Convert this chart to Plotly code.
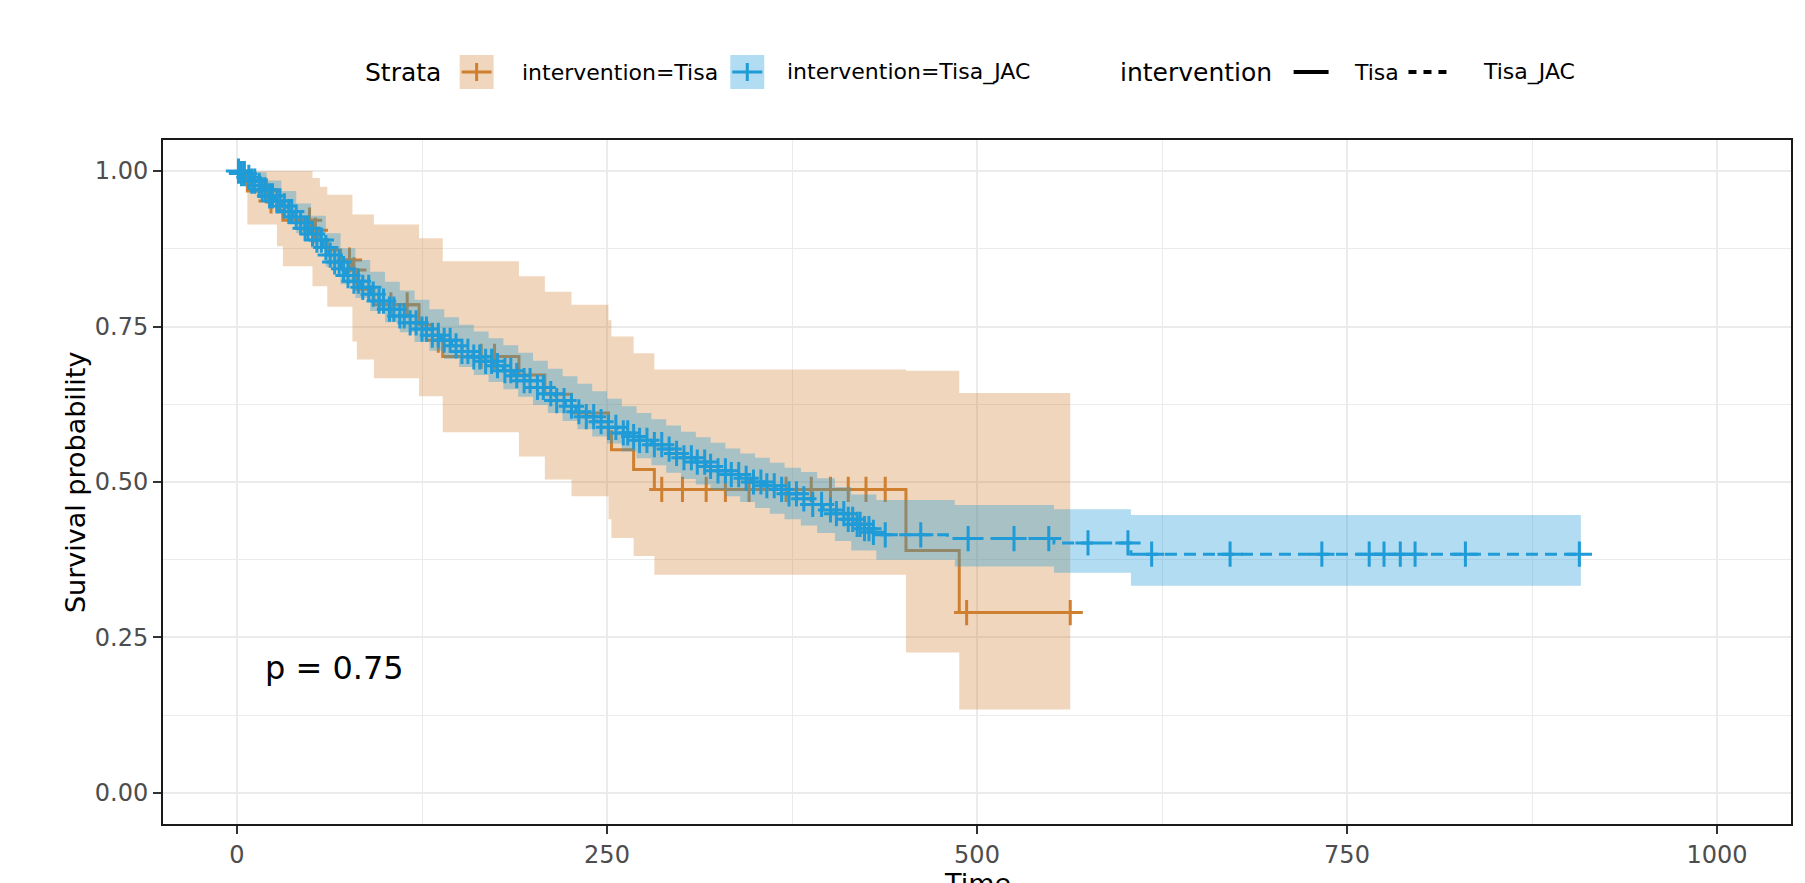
import bisect
import plotly.graph_objects as go

# ---------------- data ----------------
TISA_TIME = [0, 7, 22, 27, 31, 51, 56, 61, 70, 78, 81, 92.5, 123, 132, 139,
             190.5, 208, 226, 251, 253, 268, 282, 452, 488]
TISA_SURV = [1.0, 0.968, 0.952, 0.937, 0.921, 0.905, 0.889, 0.873, 0.857, 0.841,
             0.810, 0.785, 0.753, 0.728, 0.702, 0.672, 0.641, 0.611, 0.581, 0.552,
             0.520, 0.488, 0.390, 0.290]
TISA_END = 563

TISA_BAND_TIME = [0, 7, 27, 31, 51, 56, 61, 78, 81, 92.5, 123, 139, 190.5, 208,
                  226, 251, 253, 268, 282, 452, 488]
TISA_UPPER = [1, 1, 1, 1, 0.989, 0.975, 0.962, 0.930, 0.930, 0.914, 0.892, 0.855,
              0.831, 0.806, 0.785, 0.760, 0.734, 0.707, 0.681, 0.679, 0.643]
TISA_LOWER = [1, 0.914, 0.879, 0.847, 0.815, 0.815, 0.782, 0.726, 0.697, 0.667,
              0.638, 0.580, 0.541, 0.504, 0.477, 0.440, 0.410, 0.381, 0.351, 0.226,
              0.134]
TISA_CENSOR = [20, 23, 49, 53, 76, 79, 104, 115, 136, 165, 174, 287, 301, 317, 330,
               346, 371, 388, 401, 413, 425, 438, 493, 563]

JAC_TIME = [0, 3, 6, 9, 13, 17, 22, 26, 30, 34, 38, 42, 46, 50, 54, 58, 62, 66, 70,
            74, 78, 84, 90, 96, 103, 110, 117, 124, 131, 138, 145, 152, 159, 166,
            173, 180, 187, 194, 201, 208, 215, 222, 229, 236, 243, 250, 257, 265,
            272, 280, 288, 295, 302, 310, 317, 325, 332, 340, 348, 356, 364, 372,
            380, 388, 396, 405, 413, 418, 423, 428, 433, 480, 552, 604]
JAC_SURV = [1.000, 0.996, 0.990, 0.984, 0.977, 0.970, 0.960, 0.952, 0.944, 0.935,
            0.926, 0.917, 0.908, 0.899, 0.889, 0.877, 0.865, 0.854, 0.843, 0.832,
            0.823, 0.813, 0.802, 0.791, 0.778, 0.767, 0.756, 0.746, 0.736, 0.728,
            0.719, 0.710, 0.701, 0.694, 0.687, 0.679, 0.671, 0.663, 0.652, 0.642,
            0.631, 0.622, 0.613, 0.605, 0.597, 0.588, 0.579, 0.573, 0.567, 0.560,
            0.553, 0.546, 0.539, 0.532, 0.525, 0.518, 0.512, 0.506, 0.500, 0.494,
            0.488, 0.481, 0.473, 0.464, 0.455, 0.449, 0.440, 0.432, 0.425, 0.419,
            0.415, 0.409, 0.402, 0.384]
JAC_END = 907

JAC_BAND_TIME = [0, 4, 10, 20, 30, 40, 50, 60, 70, 80, 90, 100, 110, 120, 130, 140,
                 150, 160, 170, 180, 190, 200, 210, 220, 230, 240, 250, 260, 270,
                 280, 290, 300, 310, 320, 330, 340, 350, 360, 370, 381, 392, 404,
                 415, 432, 485, 552, 604]
JAC_UPPER = [1.0, 1.0, 0.998, 0.985, 0.968, 0.948, 0.928, 0.900, 0.876, 0.857,
             0.838, 0.822, 0.808, 0.793, 0.778, 0.765, 0.753, 0.742, 0.731, 0.720,
             0.708, 0.695, 0.682, 0.670, 0.658, 0.646, 0.634, 0.622, 0.611, 0.601,
             0.591, 0.581, 0.572, 0.563, 0.554, 0.546, 0.539, 0.531, 0.523, 0.516,
             0.506, 0.492, 0.480, 0.471, 0.463, 0.456, 0.447]
JAC_LOWER = [1.0, 0.988, 0.972, 0.948, 0.924, 0.900, 0.876, 0.846, 0.818, 0.796,
             0.775, 0.757, 0.741, 0.725, 0.711, 0.698, 0.685, 0.672, 0.661, 0.649,
             0.637, 0.624, 0.611, 0.598, 0.585, 0.573, 0.562, 0.549, 0.538, 0.527,
             0.515, 0.505, 0.496, 0.487, 0.477, 0.468, 0.458, 0.449, 0.440, 0.430,
             0.418, 0.405, 0.390, 0.375, 0.364, 0.354, 0.333]
JAC_BAND_END = 908
JAC_CENSOR = [1, 3, 5, 8, 10, 12, 15, 17, 19, 22, 24, 27, 29, 32, 35, 37, 40, 43, 46,
              48, 51, 54, 57, 60, 63, 66, 69, 72, 75, 79, 82, 85, 89, 92, 96, 99,
              103, 106, 110, 113, 117, 121, 125, 128, 132, 136, 140, 144, 148, 152,
              156, 160, 164, 168, 172, 176, 181, 185, 189, 194, 198, 203, 207, 212,
              216, 221, 226, 231, 236, 241, 246, 251, 256, 261, 264, 268, 272, 277,
              282, 287, 292, 297, 302, 307, 311, 316, 320, 325, 330, 334, 339, 344,
              349, 354, 358, 363, 368, 373, 378, 383, 389, 395, 401, 405, 410, 413,
              416, 419, 421, 424, 427, 430, 438, 462, 494, 525, 548.5, 575, 602, 618,
              671, 733, 765, 775, 786, 796, 830, 907]

X_TICKS = [0, 250, 500, 750, 1000]
X_TICK_TEXT = ["0", "250", "500", "750", "1000"]
Y_TICKS = [0, 0.25, 0.5, 0.75, 1.0]
Y_TICK_TEXT = ["0.00", "0.25", "0.50", "0.75", "1.00"]
P_TEXT = "p = 0.75"

# ---------------- styling ----------------
ORANGE = "#CF7F30"
BLUE = "#1F9BD7"
ORANGE_FILL = "rgba(207,127,48,0.32)"
BLUE_FILL = "rgba(31,155,215,0.35)"
FONT = "DejaVu Sans, Liberation Sans, Arial, sans-serif"

W, H = 1805, 883
ML, MR, MT, MB = 163, 12, 140, 59
PW, PH = W - ML - MR, H - MT - MB


def px(X):
    return (X - ML) / PW


def py(Y):
    return (H - MB - Y) / PH


def extend(ts, ss, end):
    return list(ts) + [end], list(ss) + [ss[-1]]


def step_at(ts, ss, t):
    i = bisect.bisect_right(ts, t) - 1
    return ss[max(i, 0)]


fig = go.Figure()


def add_group(band_t, up, lo, band_end, t, s, end, censor, color, fill, dash):
    bt, bl = extend(band_t, lo, band_end)
    _, bu = extend(band_t, up, band_end)
    fig.add_trace(go.Scatter(x=bt, y=bl, mode="lines", line=dict(width=0, shape="hv"),
                             hoverinfo="skip", showlegend=False))
    fig.add_trace(go.Scatter(x=bt, y=bu, mode="lines", line=dict(width=0, shape="hv"),
                             fill="tonexty", fillcolor=fill, hoverinfo="skip",
                             showlegend=False))
    lt, ls = extend(t, s, end)
    fig.add_trace(go.Scatter(x=lt, y=ls, mode="lines",
                             line=dict(color=color, width=3, shape="hv", dash=dash),
                             showlegend=False))
    cy = [step_at(t, s, c) for c in censor]
    fig.add_trace(go.Scatter(x=censor, y=cy, mode="markers",
                             marker=dict(symbol="cross-thin", size=18,
                                         line=dict(color=color, width=3)),
                             showlegend=False))


add_group(TISA_BAND_TIME, TISA_UPPER, TISA_LOWER, TISA_END, TISA_TIME, TISA_SURV,
          TISA_END, TISA_CENSOR, ORANGE, ORANGE_FILL, "solid")
add_group(JAC_BAND_TIME, JAC_UPPER, JAC_LOWER, JAC_BAND_END, JAC_TIME, JAC_SURV,
          JAC_END, JAC_CENSOR, BLUE, BLUE_FILL, "12px,7px")

grid = "#EBEBEB"
axis_common = dict(showline=True, linecolor="#1a1a1a", linewidth=2, mirror=True,
                   ticks="outside", ticklen=8, tickwidth=2, tickcolor="#333333",
                   showgrid=True, gridcolor=grid, gridwidth=2, zeroline=False,
                   tickfont=dict(family=FONT, size=24, color="#4D4D4D"))

fig.update_xaxes(range=[-50, 1050], tickvals=X_TICKS, ticktext=X_TICK_TEXT,
                 minor=dict(tickvals=[125, 375, 625, 875], showgrid=True,
                            gridcolor=grid, gridwidth=1.2),
                 **axis_common)
fig.update_yaxes(range=[-0.05, 1.05], tickvals=Y_TICKS, ticktext=Y_TICK_TEXT,
                 minor=dict(tickvals=[0.125, 0.375, 0.625, 0.875], showgrid=True,
                            gridcolor=grid, gridwidth=1.2),
                 **axis_common)

annotations = [
    dict(x=17.7, y=0.2016, xref="x", yref="y", text=P_TEXT, showarrow=False,
         xanchor="left", yanchor="middle", font=dict(family=FONT, size=32, color="black")),
    dict(x=px(75), y=0.5, xref="paper", yref="paper", text="Survival probability",
         textangle=-90, showarrow=False, xanchor="center", yanchor="middle",
         font=dict(family=FONT, size=27, color="black")),
    dict(x=0.5, y=py(866), xref="paper", yref="paper", text="Time", showarrow=False,
         xanchor="center", yanchor="top", font=dict(family=FONT, size=27, color="black")),
]

LEG_Y = 72
leg_texts = [("Strata", 363, 25), ("intervention=Tisa", 520, 22),
             ("intervention=Tisa_JAC", 786, 22), ("intervention", 1119, 25),
             ("Tisa", 1353, 22), ("Tisa_JAC", 1483, 22)]
for txt, X, sz in leg_texts:
    annotations.append(dict(x=px(X), y=py(LEG_Y), xref="paper", yref="paper", text=txt,
                            showarrow=False, xanchor="left", yanchor="middle",
                            font=dict(family=FONT, size=sz, color="black")))

KEY = 34
shapes = []
for x0, col, fill in [(460, ORANGE, ORANGE_FILL), (731, BLUE, BLUE_FILL)]:
    shapes.append(dict(type="rect", xref="paper", yref="paper", x0=px(x0), x1=px(x0 + KEY),
                       y0=py(LEG_Y - KEY / 2), y1=py(LEG_Y + KEY / 2), fillcolor=fill,
                       line=dict(width=0), layer="above"))
    shapes.append(dict(type="line", xref="paper", yref="paper", x0=px(x0 + 2), x1=px(x0 + KEY - 2),
                       y0=py(LEG_Y), y1=py(LEG_Y), line=dict(color=col, width=3)))
    shapes.append(dict(type="line", xref="paper", yref="paper", x0=px(x0 + KEY / 2),
                       x1=px(x0 + KEY / 2), y0=py(LEG_Y - 9), y1=py(LEG_Y + 9),
                       line=dict(color=col, width=3)))
shapes.append(dict(type="line", xref="paper", yref="paper", x0=px(1295), x1=px(1330),
                   y0=py(LEG_Y), y1=py(LEG_Y), line=dict(color="black", width=4)))
shapes.append(dict(type="line", xref="paper", yref="paper", x0=px(1410), x1=px(1454),
                   y0=py(LEG_Y), y1=py(LEG_Y),
                   line=dict(color="black", width=4, dash="8px,7px")))

fig.update_layout(width=W, height=H, autosize=False,
                  margin=dict(l=ML, r=MR, t=MT, b=MB, pad=0),
                  paper_bgcolor="white", plot_bgcolor="white", showlegend=False,
                  annotations=annotations, shapes=shapes,
                  font=dict(family=FONT))

fig.write_html("out.html")
